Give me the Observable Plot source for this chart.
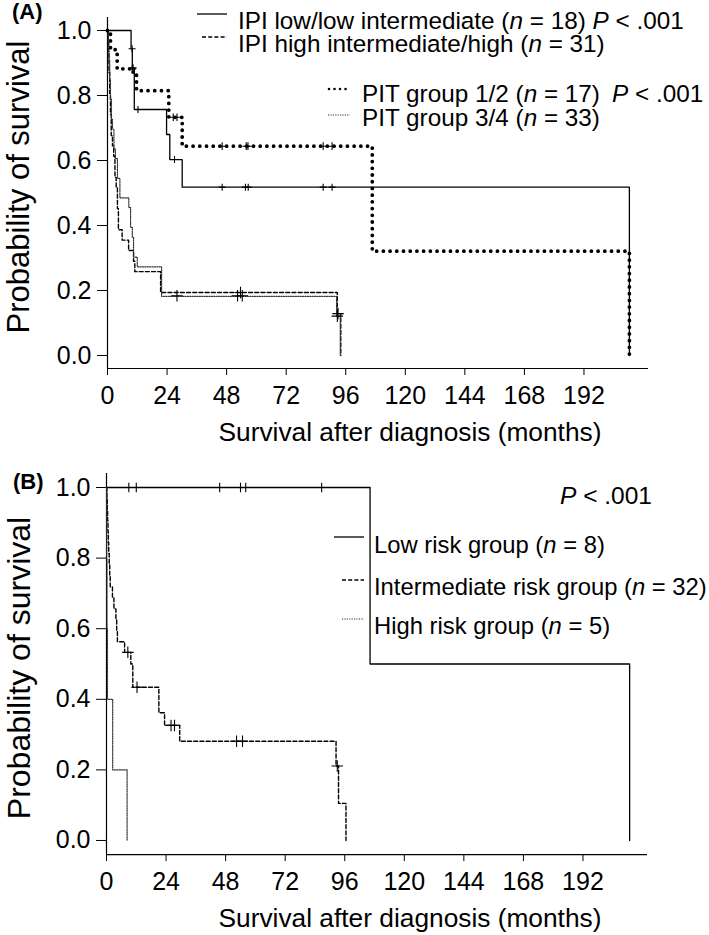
<!DOCTYPE html>
<html><head><meta charset="utf-8">
<script src="https://cdn.jsdelivr.net/npm/d3@7"></script>
<script src="https://cdn.jsdelivr.net/npm/@observablehq/plot@0.6"></script>
<style>
body{margin:0;background:#fff;}
#wrap{position:relative;width:709px;height:935px;overflow:hidden;font-family:"Liberation Sans",Arial,Helvetica,sans-serif;}
#wrap svg{position:absolute;left:0;}
</style></head><body><div id="wrap"></div>
<script>
// ---------- data ----------
const xTicks = [0, 24, 48, 72, 96, 120, 144, 168, 192];
const yTicks = [0, 0.2, 0.4, 0.6, 0.8, 1.0];

// Panel A: IPI low/low intermediate (n = 18)
const ipiLowTime = [0, 9.5, 10.0, 10.8, 23.8, 25.1, 30.1, 210.3];
const ipiLowSurv = [1, 0.944, 0.885, 0.757, 0.680, 0.603, 0.518, 0];
const ipiLowCensT = [9.9, 10.3, 12.3, 27.0, 46.2, 55.6, 56.7, 86.9, 90.5];
const ipiLowCensS = [0.944, 0.885, 0.757, 0.603, 0.518, 0.518, 0.518, 0.518, 0.518];

// Panel A: IPI high intermediate/high (n = 31)
const ipiHighTime = [0, 0.3, 0.6, 0.9, 1.2, 1.5, 2.0, 2.5, 3.0, 3.5, 4.0, 4.4, 5.9, 8.5, 10.5, 11.0, 21.4, 92.6, 94.0];
const ipiHighSurv = [1, 0.935, 0.871, 0.806, 0.742, 0.677, 0.645, 0.613, 0.548, 0.516, 0.452, 0.387, 0.355, 0.323, 0.290, 0.258, 0.194, 0.129, 0];
const ipiHighCensT = [53.6, 92.9];
const ipiHighCensS = [0.194, 0.129];

// Panel A: PIT group 1/2 (n = 17)
const pit12Time = [0, 1.2, 3.9, 10.3, 11.7, 24.7, 30.1, 106.7, 210.3];
const pit12Surv = [1, 0.941, 0.882, 0.872, 0.815, 0.733, 0.644, 0.321, 0];
const pit12CensT = [10.0, 26.5, 28.0, 46.2, 55.9, 56.6, 86.9, 90.5];
const pit12CensS = [0.882, 0.733, 0.733, 0.644, 0.644, 0.644, 0.644, 0.644];

// Panel A: PIT group 3/4 (n = 33)
const pit34Time = [0, 0.3, 0.6, 0.9, 1.2, 1.6, 2.0, 2.6, 3.2, 4.0, 5.0, 8.6, 9.3, 10.0, 10.5, 12.0, 21.8, 92.3, 93.8];
const pit34Surv = [1, 0.970, 0.909, 0.848, 0.788, 0.727, 0.697, 0.636, 0.606, 0.545, 0.485, 0.455, 0.394, 0.364, 0.303, 0.273, 0.182, 0.121, 0];
const pit34CensT = [28.0, 52.4, 54.3, 92.6];
const pit34CensS = [0.184, 0.184, 0.184, 0.121];

// Panel B: Low risk group (n = 8)
const lowTime = [0, 106.2, 210.8];
const lowSurv = [1, 0.5, 0];
const lowCensT = [9.0, 12.0, 45.6, 54.0, 56.1, 86.7];
const lowCensS = [1, 1, 1, 1, 1, 1];

// Panel B: Intermediate risk group (n = 32)
const intTime = [0, 0.15, 0.3, 0.45, 0.6, 0.75, 0.9, 1.1, 1.3, 1.5, 2.4, 3.0, 3.8, 4.1, 4.4, 7.3, 9.8, 10.6, 21.1, 23.4, 29.5, 92.5, 93.5, 96.5];
const intSurv = [1, 0.969, 0.938, 0.906, 0.875, 0.844, 0.813, 0.781, 0.750, 0.719, 0.688, 0.656, 0.625, 0.594, 0.563, 0.533, 0.500, 0.434, 0.362, 0.326, 0.281, 0.211, 0.105, 0];
const intCensT = [8.6, 12.3, 26.0, 27.4, 52.4, 54.8, 93.0];
const intCensS = [0.533, 0.434, 0.326, 0.326, 0.281, 0.281, 0.211];

// Panel B: High risk group (n = 5)
const highTime = [0, 0.1, 0.2, 0.4, 2.5, 8.3];
const highSurv = [1, 0.8, 0.6, 0.4, 0.2, 0];

// ---------- helpers ----------
const font = '"Liberation Sans", Arial, Helvetica, sans-serif';
const W = 709;
const rows = (t, s) => t.map((d, i) => ({t: d, s: s[i]}));

const sSolid = {stroke: "#000", strokeWidth: 1.3};
const sDash = {stroke: "#000", strokeWidth: 1.4, strokeDasharray: "4,2.2"};
const sBold = {stroke: "#000", strokeWidth: 3.8, strokeDasharray: "0.01,6.7", strokeLinecap: "round"};
const sFine = {stroke: "#333", strokeWidth: 1.2, strokeDasharray: "1.2,1.2"};

function km(t, s, style) {
  return Plot.line(rows(t, s), {x: "t", y: "s", curve: "step-after", ...style});
}
function cens(t, s, r) {
  return Plot.dot(rows(t, s), {x: "t", y: "s", symbol: "plus", r, stroke: "#000", strokeWidth: 1.1});
}

function panel({height, marginTop, marginBottom, marginLeft, marginRight, marks}) {
  return Plot.plot({
    width: W, height, marginTop, marginBottom, marginLeft, marginRight,
    style: {fontSize: "25px", fontFamily: font, color: "#000", background: "transparent", overflow: "visible"},
    x: {domain: [0, 218], ticks: xTicks, tickSize: 7, tickPadding: 11, label: null},
    y: {domain: [-0.04, 1.04], ticks: yTicks, tickFormat: d => d.toFixed(1), tickSize: 10, tickPadding: 6, label: null},
    marks: [
      Plot.ruleX([0], {stroke: "#000", strokeWidth: 1.2}),
      Plot.ruleY([-0.04], {stroke: "#000", strokeWidth: 1.2}),
      ...marks
    ]
  });
}

const wrap = document.getElementById("wrap");

const A = panel({
  height: 450, marginTop: 17, marginBottom: 82, marginLeft: 107, marginRight: 61,
  marks: [
    km(ipiLowTime, ipiLowSurv, sSolid),
    km(ipiHighTime, ipiHighSurv, sDash),
    km(pit34Time, pit34Surv, sFine),
    km(pit12Time, pit12Surv, sBold),
    cens(ipiLowCensT, ipiLowCensS, 2.4),
    cens(ipiHighCensT, ipiHighCensS, 3.8),
    cens(pit12CensT, pit12CensS, 2.6),
    cens(pit34CensT, pit34CensS, 3.8)
  ]
});
A.style.top = "0px";
wrap.appendChild(A);

const B = panel({
  height: 485, marginTop: 22.9, marginBottom: 80.9, marginLeft: 106, marginRight: 62,
  marks: [
    km(lowTime, lowSurv, sSolid),
    km(intTime, intSurv, sDash),
    km(highTime, highSurv, sFine),
    cens(lowCensT, lowCensS, 3.2),
    cens(intCensT, intCensS, 3.8)
  ]
});
B.style.top = "450px";
wrap.appendChild(B);

// ---------- annotation overlay (titles, legends) ----------
const ov = d3.select(wrap).append("svg")
  .attr("width", W).attr("height", 935)
  .style("top", "0px")
  .attr("font-family", font)
  .attr("fill", "#000");

function rich(sel, x, y, size, parts, anchor = "start") {
  const t = sel.append("text").attr("x", x).attr("y", y).attr("font-size", size).attr("text-anchor", anchor).style("white-space", "pre");
  parts.forEach(p => {
    const sp = t.append("tspan").text(typeof p === "string" ? p : p.i);
    if (typeof p !== "string") sp.attr("font-style", "italic");
  });
  return t;
}
function sample(x1, x2, y, style) {
  const l = ov.append("line").attr("x1", x1).attr("x2", x2).attr("y1", y).attr("y2", y)
    .attr("stroke", style.stroke).attr("stroke-width", style.strokeWidth);
  if (style.strokeDasharray) l.attr("stroke-dasharray", style.strokeDasharray);
  if (style.strokeLinecap) l.attr("stroke-linecap", style.strokeLinecap);
}

ov.append("text").attr("x", 12).attr("y", 19).attr("font-size", 22).attr("font-weight", "bold").text("(A)");
ov.append("text").attr("x", 13).attr("y", 489).attr("font-size", 22).attr("font-weight", "bold").text("(B)");

// axis titles
ov.append("text").attr("transform", "translate(29,187) rotate(-90)").attr("text-anchor", "middle").attr("font-size", 31).text("Probability of survival");
ov.append("text").attr("transform", "translate(30,668) rotate(-90)").attr("text-anchor", "middle").attr("font-size", 32).text("Probability of survival");
ov.append("text").attr("x", 410).attr("y", 441).attr("text-anchor", "middle").attr("font-size", 26.3).text("Survival after diagnosis (months)");
ov.append("text").attr("x", 410).attr("y", 927).attr("text-anchor", "middle").attr("font-size", 26.3).text("Survival after diagnosis (months)");

// legend A
const LF = 24.3;
sample(197, 227, 14, sSolid);
rich(ov, 238, 28.5, LF, ["IPI low/low intermediate (", {i: "n"}, " = 18) ", {i: "P"}, " < .001"]);
sample(202, 227, 37, sDash);
rich(ov, 238, 51.5, LF, ["IPI high intermediate/high (", {i: "n"}, " = 31)"]);
sample(329, 350, 89, {...sBold, strokeWidth: 2.6, strokeDasharray: "0.01,5.5"});
rich(ov, 362, 102, LF, ["PIT group 1/2 (", {i: "n"}, " = 17)"]);
rich(ov, 612, 102, LF, [{i: "P"}, " < .001"]);
sample(328, 350, 115, sFine);
rich(ov, 362, 125.5, LF, ["PIT group 3/4 (", {i: "n"}, " = 33)"]);

// legend B
const LB = 23.8;
rich(ov, 560, 504, 24.5, [{i: "P"}, " < .001"]);
sample(334, 364, 537, sSolid);
rich(ov, 374, 553, LB, ["Low risk group (", {i: "n"}, " = 8)"]);
sample(342, 364, 580, sDash);
rich(ov, 374, 595, LB, ["Intermediate risk group (", {i: "n"}, " = 32)"]);
sample(342, 364, 619, sFine);
rich(ov, 374, 634, LB, ["High risk group (", {i: "n"}, " = 5)"]);
</script></body></html>
